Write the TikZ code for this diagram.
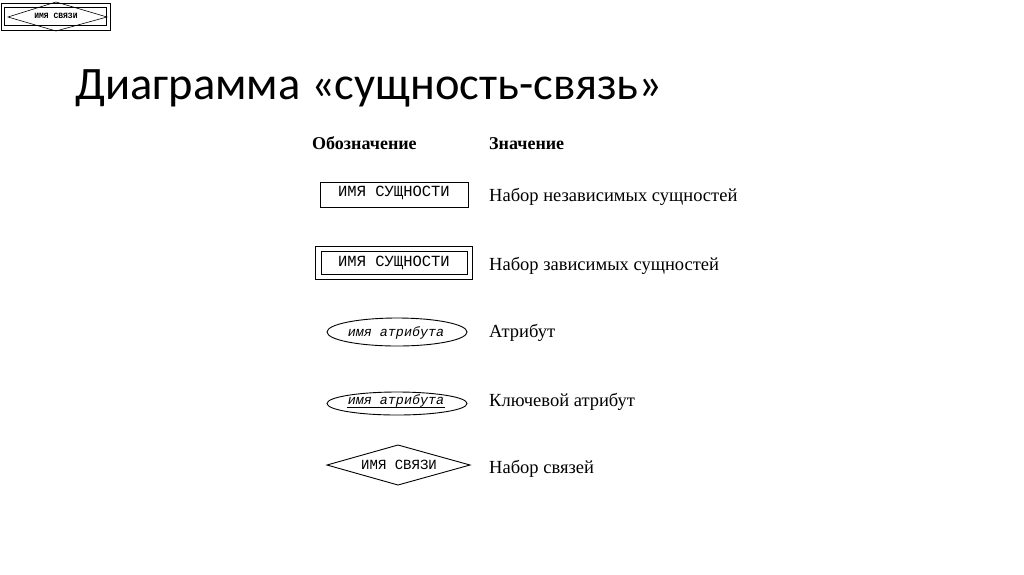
\documentclass[tikz,border=0pt]{standalone}
\usepackage{fontspec}
\setmainfont{Liberation Serif}
\newfontfamily\titlefont{Carlito}
\newfontfamily\monofont{Liberation Mono}
\usetikzlibrary{shapes.geometric}
\tikzset{
  x=1pt, y=-1pt,
  lbl/.style={anchor=base west, inner sep=0pt, font=\fontsize{18.5}{21}\selectfont},
  head/.style={anchor=base west, inner sep=0pt, font=\fontsize{18}{21}\selectfont\bfseries},
  mono/.style={anchor=base, inner sep=0pt, font=\monofont\fontsize{15.5}{17}\selectfont},
  monoit/.style={anchor=base, inner sep=0pt, font=\monofont\itshape\fontsize{13.4}{15}\selectfont},
  shp/.style={draw=black, line width=0.9pt},
}
\begin{document}
\begin{tikzpicture}
\useasboundingbox (0,0) rectangle (1024,574);
\fill[white] (0,0) rectangle (1024,574);
% top-left icon
\draw[shp, line width=0.8pt] (1,3) rectangle (110,30);
\draw[shp, line width=0.8pt] (4,7) rectangle (106,25);
\draw[shp, line width=0.6pt] (8,17) -- (56,2) -- (107,17) -- (56,31) -- cycle;
\node[inner sep=0pt, font=\monofont\bfseries\fontsize{8}{8}\selectfont] (icontext) at (56,16) {ИМЯ СВЯЗИ};
% title
\node[anchor=base west, inner sep=0pt, font=\titlefont\fontsize{46.5}{52}\selectfont] (title) at (75,99) {Диаграмма «сущность-связь»};
% headings
\node[head] (h1) at (312,149) {Обозначение};
\node[head] (h2) at (489,149) {Значение};
% row 1
\draw[shp] (320,182) rectangle (468,207);
\node[mono] (e1) at (394,196) {ИМЯ СУЩНОСТИ};
\node[lbl] (t1) at (489,201) {Набор независимых сущностей};
% row 2
\draw[shp] (315,246) rectangle (472,279);
\draw[shp] (321,251) rectangle (467,274);
\node[mono] (e2) at (394,266) {ИМЯ СУЩНОСТИ};
\node[lbl] (t2) at (489,270) {Набор зависимых сущностей};
% row 3
\draw[shp] (397,332) ellipse [x radius=70, y radius=14];
\node[monoit] (a1) at (396,336) {имя атрибута};
\node[lbl] (t3) at (489,337) {Атрибут};
% row 4
\draw[shp] (397,403.5) ellipse [x radius=70, y radius=11.5];
\node[monoit] (a2) at (396,404) {имя атрибута};
\draw[line width=0.9pt] (347,407.5) -- (445,407.5);
\node[lbl] (t4) at (489,406) {Ключевой атрибут};
% row 5
\draw[shp] (327,465) -- (398,445) -- (470,465) -- (398,485) -- cycle;
\node[mono, font=\monofont\fontsize{14}{16}\selectfont] (r1) at (399,469) {ИМЯ СВЯЗИ};
\node[lbl] (t5) at (489,473) {Набор связей};
\end{tikzpicture}
\end{document}
